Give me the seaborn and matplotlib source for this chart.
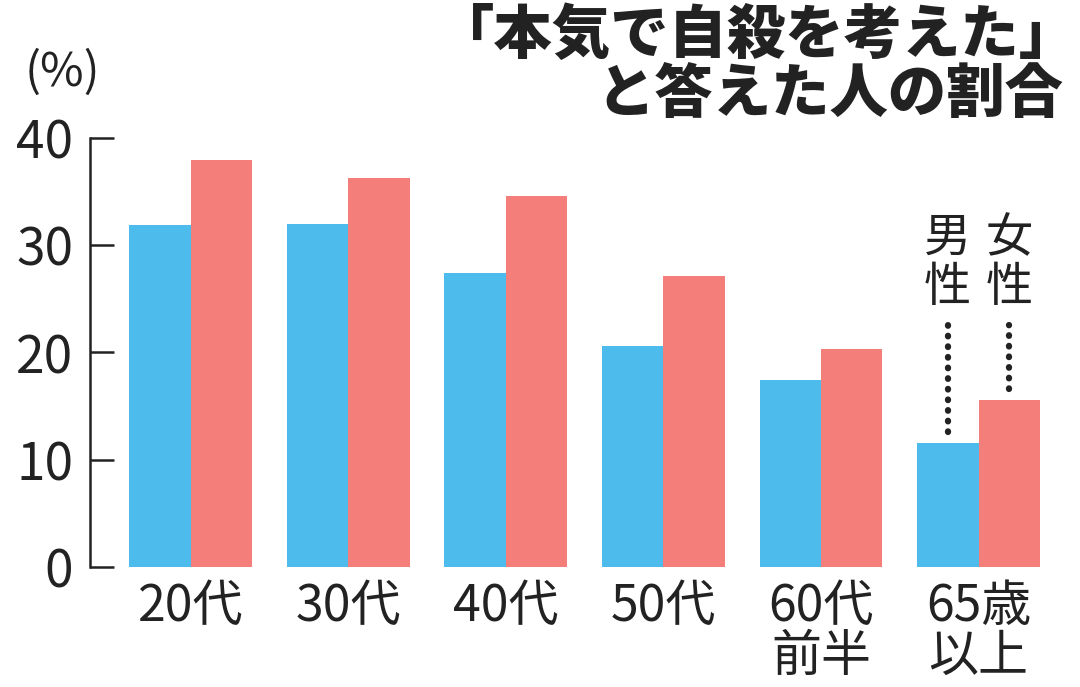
import matplotlib
matplotlib.use("Agg")
import matplotlib.pyplot as plt
import seaborn as sns
import pandas as pd

ages = ["20代", "30代", "40代", "50代", "60代\n前半", "65歳\n以上"]
male = [31.9, 32.0, 27.4, 20.6, 17.4, 11.6]
female = [37.9, 36.3, 34.6, 27.1, 20.3, 15.6]
sexes = ["男性", "女性"]
colors = ["#4dbbec", "#f47f7a"]

sns.set_theme(style="white")
plt.rcParams["font.family"] = ["Liberation Sans Narrow", "Noto Sans CJK JP", "DejaVu Sans"]

df = pd.DataFrame({
    "age": ages * 2,
    "sex": [sexes[0]] * len(ages) + [sexes[1]] * len(ages),
    "value": male + female,
})

fig = plt.figure(figsize=(10.8, 6.87), dpi=100)
ax = fig.add_axes([0.0833, 0.1747, 0.884, 0.6245])
sns.barplot(data=df, x="age", y="value", hue="sex", order=ages, hue_order=sexes,
            palette=colors, width=0.78, gap=0, saturation=1, legend=False,
            linewidth=0, edgecolor="none", ax=ax)

ax.set_xlim(-0.64, 5.42)
ax.set_ylim(0, 40)
ax.set_yticks([0, 10, 20, 30, 40])
ax.set_xlabel("")
ax.set_ylabel("")
for s in ["top", "right", "bottom"]:
    ax.spines[s].set_visible(False)
ax.spines["left"].set_linewidth(1.8)
ax.spines["left"].set_color("#222222")
ax.tick_params(axis="y", left=True, direction="in", length=17, width=1.8, color="#222222",
               labelsize=37, pad=12, labelcolor="#222222")
ax.tick_params(axis="x", bottom=False, length=0, pad=10, labelsize=36, labelcolor="#222222")
for lab in ax.get_xticklabels():
    lab.set_linespacing(0.95)
    lab.set_verticalalignment("top")

fig.text(0.023, 0.93, "(%)", fontsize=34, color="#222222", va="top")

tfont = ["Noto Sans CJK JP"]
fig.text(0.998, 0.99, "「本気で自殺を考えた」", fontsize=42, fontweight="black",
         family=tfont, ha="right", va="top", color="#222222")
fig.text(0.985, 0.905, "と答えた人の割合", fontsize=42, fontweight="black",
         family=tfont, ha="right", va="top", color="#222222")

# annotation on last group
bars = ax.patches
n = len(ages)
for bar, lab in [(bars[n - 1], "男\n性"), (bars[2 * n - 1], "女\n性")]:
    cx = bar.get_x() + bar.get_width() / 2
    top = bar.get_height()
    ax.plot([cx, cx], [top + 1.0, 22.6], linestyle=(0, (0.1, 1.6)), dash_capstyle="round",
            linewidth=4.5, color="#222222")
    ax.text(cx, 23.8, lab, fontsize=34, family=tfont, ha="center", va="bottom",
            linespacing=1.0, color="#222222")

fig.savefig("out.png", dpi=100)
